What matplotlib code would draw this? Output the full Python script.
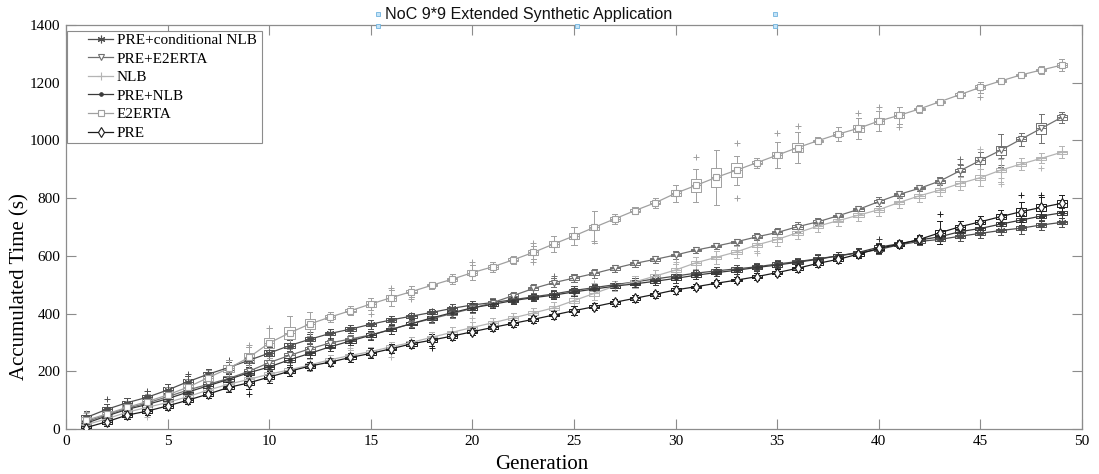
import matplotlib
matplotlib.use("Agg")
import matplotlib.pyplot as plt
from matplotlib.patches import Rectangle

# ---------------------------------------------------------------- data
generations = list(range(1, 50))

series_names = ["PRE+conditional NLB", "PRE+E2ERTA", "NLB", "PRE+NLB", "E2ERTA", "PRE"]

# medians of accumulated time (s) per generation
med_pre_cnlb = [40, 68, 91, 110, 135, 164, 190, 213, 238, 263,
                289, 311, 331, 346, 363, 378, 391, 404, 418, 430,
                438, 448, 458, 468, 480, 490, 500, 510, 520, 530,
                540, 548, 555, 562, 572, 580, 590, 600, 610, 622,
                638, 650, 657, 668, 678, 688, 696, 707, 716]
med_pre_e2erta = [25, 50, 72, 90, 112, 135, 155, 175, 200, 230,
                  255, 278, 298, 312, 326, 345, 365, 382, 400, 418,
                  438, 462, 487, 507, 523, 539, 557, 574, 588, 603,
                  620, 634, 649, 666, 681, 701, 718, 739, 761, 788,
                  813, 834, 859, 895, 931, 966, 1004, 1042, 1080]
med_nlb = [15, 35, 58, 75, 92, 112, 135, 155, 172, 190,
           205, 222, 240, 255, 268, 285, 300, 318, 335, 352,
           368, 385, 402, 420, 445, 470, 495, 510, 530, 551,
           576, 595, 614, 638, 657, 680, 703, 722, 741, 760,
           785, 808, 828, 851, 871, 897, 918, 938, 959]
med_pre_nlb = [20, 45, 68, 85, 105, 128, 150, 172, 195, 215,
               240, 262, 285, 305, 325, 345, 365, 385, 403, 420,
               432, 445, 455, 464, 475, 485, 495, 503, 512, 522,
               533, 542, 550, 560, 568, 578, 588, 600, 612, 630,
               642, 655, 666, 684, 695, 710, 724, 738, 749]
med_e2erta = [30, 52, 75, 95, 118, 145, 178, 210, 248, 298,
              333, 364, 388, 410, 433, 455, 476, 498, 519, 542,
              562, 586, 612, 641, 669, 699, 728, 757, 784, 817,
              844, 872, 897, 923, 949, 975, 999, 1022, 1042, 1067,
              1087, 1109, 1134, 1159, 1184, 1206, 1227, 1244, 1261]
med_pre = [5, 25, 48, 62, 80, 100, 121, 144, 160, 180,
           200, 218, 232, 248, 262, 278, 295, 308, 322, 337,
           352, 366, 380, 395, 410, 424, 439, 453, 467, 482,
           493, 505, 516, 528, 542, 557, 574, 588, 606, 626,
           640, 657, 680, 701, 718, 736, 753, 768, 782]

# interquartile ranges per generation
iqr_pre_cnlb = [18, 18, 15, 15, 18, 18, 15, 15, 18, 20,
                15, 15, 12, 12, 12, 12, 10, 10, 12, 12,
                10, 10, 10, 10, 12, 10, 10, 10, 10, 12,
                10, 10, 10, 10, 10, 10, 12, 10, 10, 12,
                10, 10, 12, 12, 12, 12, 15, 12, 12]
iqr_pre_e2erta = [15, 15, 15, 15, 18, 18, 15, 15, 18, 20,
                  20, 15, 12, 10, 12, 12, 10, 10, 12, 12,
                  12, 10, 12, 12, 12, 12, 10, 10, 10, 10,
                  8, 8, 8, 10, 12, 14, 10, 8, 10, 12,
                  10, 8, 10, 12, 25, 30, 15, 38, 15]
iqr_nlb = [15, 15, 15, 15, 15, 15, 15, 15, 15, 18,
           15, 15, 12, 12, 12, 12, 12, 12, 12, 12,
           12, 12, 12, 15, 15, 15, 12, 12, 15, 15,
           12, 12, 12, 12, 15, 15, 15, 12, 12, 15,
           12, 12, 12, 15, 15, 15, 12, 12, 12]
iqr_pre_nlb = [15, 15, 15, 15, 15, 15, 15, 15, 15, 15,
               15, 12, 12, 12, 12, 12, 12, 12, 12, 12,
               10, 10, 10, 10, 10, 10, 10, 10, 10, 12,
               10, 10, 10, 10, 10, 10, 12, 12, 12, 12,
               10, 10, 12, 12, 12, 12, 12, 12, 12]
iqr_e2erta = [25, 20, 20, 25, 25, 25, 22, 25, 30, 35,
              40, 35, 15, 10, 20, 20, 10, 8, 12, 15,
              12, 10, 15, 18, 22, 18, 12, 10, 12, 20,
              44, 67, 48, 12, 23, 33, 8, 15, 23, 23,
              20, 10, 8, 10, 15, 8, 6, 10, 12]
iqr_pre = [12, 12, 12, 12, 12, 12, 12, 12, 15, 15,
           12, 12, 10, 12, 12, 10, 12, 12, 12, 10,
           10, 10, 10, 10, 10, 10, 10, 10, 10, 10,
           8, 8, 8, 10, 10, 10, 10, 10, 10, 12,
           10, 12, 20, 15, 15, 20, 28, 23, 22]

# whisker spans per generation
rng_pre_cnlb = [45, 40, 35, 40, 40, 40, 35, 40, 45, 45,
                40, 35, 30, 30, 30, 30, 25, 25, 30, 30,
                25, 25, 25, 25, 30, 25, 25, 25, 25, 30,
                25, 25, 25, 25, 25, 25, 30, 25, 25, 30,
                25, 25, 30, 30, 30, 30, 40, 35, 30]
rng_pre_e2erta = [35, 35, 35, 40, 40, 40, 35, 40, 45, 50,
                  45, 40, 30, 30, 30, 30, 25, 30, 30, 30,
                  30, 25, 30, 30, 30, 30, 25, 25, 25, 25,
                  20, 20, 20, 25, 30, 35, 25, 20, 25, 30,
                  25, 20, 30, 40, 60, 116, 45, 100, 40]
rng_nlb = [35, 40, 40, 40, 45, 45, 40, 45, 45, 50,
           45, 40, 35, 35, 35, 35, 35, 35, 35, 35,
           35, 35, 35, 40, 40, 45, 35, 40, 45, 45,
           40, 45, 40, 40, 45, 45, 40, 40, 40, 45,
           40, 40, 40, 45, 60, 80, 40, 35, 40]
rng_pre_nlb = [40, 40, 35, 40, 40, 40, 35, 40, 40, 40,
               35, 35, 30, 30, 30, 30, 30, 30, 30, 30,
               25, 25, 25, 25, 25, 25, 25, 25, 25, 30,
               25, 25, 25, 25, 25, 25, 30, 30, 30, 30,
               25, 25, 30, 35, 35, 35, 35, 35, 35]
rng_e2erta = [55, 45, 45, 50, 55, 55, 50, 55, 75, 105,
              115, 85, 35, 30, 40, 55, 40, 25, 35, 50,
              35, 30, 45, 55, 60, 110, 35, 25, 35, 60,
              114, 193, 100, 35, 90, 105, 25, 50, 73, 70,
              60, 30, 20, 25, 40, 20, 15, 25, 40]
rng_pre = [25, 30, 30, 30, 30, 30, 30, 35, 45, 40,
           30, 30, 25, 30, 35, 30, 30, 40, 30, 25,
           25, 25, 25, 25, 30, 25, 25, 25, 25, 25,
           20, 20, 20, 25, 25, 25, 25, 25, 25, 30,
           25, 30, 80, 40, 40, 45, 70, 70, 60]

# outlying runs: (generation, time)
out_pre_cnlb = [(2, 105), (4, 130), (6, 190), (8, 240), (12, 335), (44, 700), (47, 725)]
out_pre_e2erta = [(9, 230), (16, 370), (24, 530), (44, 935), (44, 920), (46, 915), (46, 940)]
out_nlb = [(1, 55), (4, 40), (9, 140), (14, 280), (16, 250), (20, 385), (26, 505),
           (30, 580), (34, 610), (45, 970), (45, 900), (46, 850), (46, 870), (48, 905)]
out_pre_nlb = [(3, 95), (7, 180), (13, 310), (40, 660), (45, 725)]
out_e2erta = [(9, 290), (10, 350), (15, 400), (16, 490), (17, 450), (20, 580),
              (23, 645), (23, 580), (26, 650), (31, 943), (33, 992), (33, 800),
              (35, 1025), (36, 1050), (39, 1096), (40, 1117), (41, 1048), (45, 1150)]
out_pre = [(9, 120), (10, 215), (18, 280), (43, 745), (47, 810), (48, 812)]

medians = [med_pre_cnlb, med_pre_e2erta, med_nlb, med_pre_nlb, med_e2erta, med_pre]
iqrs = [iqr_pre_cnlb, iqr_pre_e2erta, iqr_nlb, iqr_pre_nlb, iqr_e2erta, iqr_pre]
spans = [rng_pre_cnlb, rng_pre_e2erta, rng_nlb, rng_pre_nlb, rng_e2erta, rng_pre]
outliers = [out_pre_cnlb, out_pre_e2erta, out_nlb, out_pre_nlb, out_e2erta, out_pre]

x_ticks = [0, 5, 10, 15, 20, 25, 30, 35, 40, 45, 50]
y_ticks = [0, 200, 400, 600, 800, 1000, 1200, 1400]

# ---------------------------------------------------------------- style
colors = ["#4f4f4f", "#707070", "#b4b4b4", "#3a3a3a", "#a0a0a0", "#1c1c1c"]
markers = [(6, 2, 0), "v", "+", ".", "s", "d"]
msizes = [5.5, 5, 6, 5, 4.5, 5]
mfaces = ["none", "white", "none", None, "white", "white"]
draw_order = [4, 2, 1, 0, 3, 5]

serif = ["Liberation Serif", "DejaVu Serif"]

W, H = 1099, 474
fig = plt.figure(figsize=(W / 100, H / 100), dpi=100)
ax = fig.add_axes([66 / W, 1 - 429 / H, (1082 - 66) / W, (429 - 25) / H])

handles = {}
for k in draw_order:
    c = colors[k]
    stats = []
    for i, g in enumerate(generations):
        m = medians[k][i]
        q = iqrs[k][i] / 2
        r = spans[k][i] / 2
        fl = [v for (gg, v) in outliers[k] if gg == g]
        stats.append(dict(med=m, q1=m - q, q3=m + q,
                          whislo=m - r, whishi=m + r, fliers=fl))
    lp = dict(color=c, lw=0.7)
    ax.bxp(stats, positions=generations, widths=0.5, capwidths=0.25,
           boxprops=lp, whiskerprops=lp, capprops=lp, medianprops=lp,
           flierprops=dict(marker="+", markeredgecolor=c, markersize=5,
                           markeredgewidth=0.7, linestyle="none"),
           manage_ticks=False, zorder=2 + k * 0.1)
    kw = dict(color=c, lw=0.9, marker=markers[k], ms=msizes[k], mec=c,
              mew=0.8, zorder=3 + k * 0.1)
    if mfaces[k] is not None:
        kw["mfc"] = mfaces[k]
    ln, = ax.plot(generations, medians[k], label=series_names[k], **kw)
    handles[k] = ln

ax.set_xlim(0, 50)
ax.set_ylim(0, 1400)
ax.set_xticks(x_ticks)
ax.set_yticks(y_ticks)
ax.set_xticklabels([str(t) for t in x_ticks], family=serif, fontsize=11)
ax.set_yticklabels([str(t) for t in y_ticks], family=serif, fontsize=11)
ax.tick_params(direction="in", length=7, width=0.8, color="#8c8c8c",
               top=True, right=True, pad=4)
for sp in ax.spines.values():
    sp.set_color("#8c8c8c")
    sp.set_linewidth(0.9)

ax.set_xlabel("Generation", family=serif, fontsize=15)
ax.set_ylabel("Accumulated Time (s)", family=serif, fontsize=15)
ax.xaxis.set_label_coords((542 - 66) / 1016, (429 - 455) / 404)
ax.yaxis.set_label_coords((29 - 66) / 1016, (429 - 287) / 404)

# legend box drawn as its own frame, entries placed inside it
frame = Rectangle((67 / W, 1 - 143 / H), (262 - 67) / W, (143 - 31) / H,
                  transform=fig.transFigure, facecolor="white",
                  edgecolor="#8c8c8c", lw=0.8, zorder=10)
fig.patches.append(frame)
leg = fig.legend([handles[k] for k in range(6)], series_names,
                 loc="upper left", bbox_to_anchor=(86 / W, 1 - 31 / H),
                 prop=dict(family=serif, size=11), frameon=False,
                 handlelength=1.6, handletextpad=0.25, labelspacing=0.32,
                 borderpad=0.15, borderaxespad=0)
leg.set_zorder(11)

# title text with its editing handles
fig.text(385 / W, 1 - 14 / H, "NoC 9*9 Extended Synthetic Application",
         family=["Liberation Sans", "DejaVu Sans"], fontsize=11.6,
         ha="left", va="center", color="#111111")
over = fig.add_axes([0, 0, 1, 1], facecolor="none")
over.set_xlim(0, W)
over.set_ylim(H, 0)
over.axis("off")
hx = [378, 378, 577, 775, 775]
hy = [14, 26, 26, 14, 26]
over.plot(hx, hy, "s", ms=3.2, mfc="#c4e3f7", mec="#6fb3de", mew=0.6, ls="none")

fig.savefig("out.png", dpi=100)
